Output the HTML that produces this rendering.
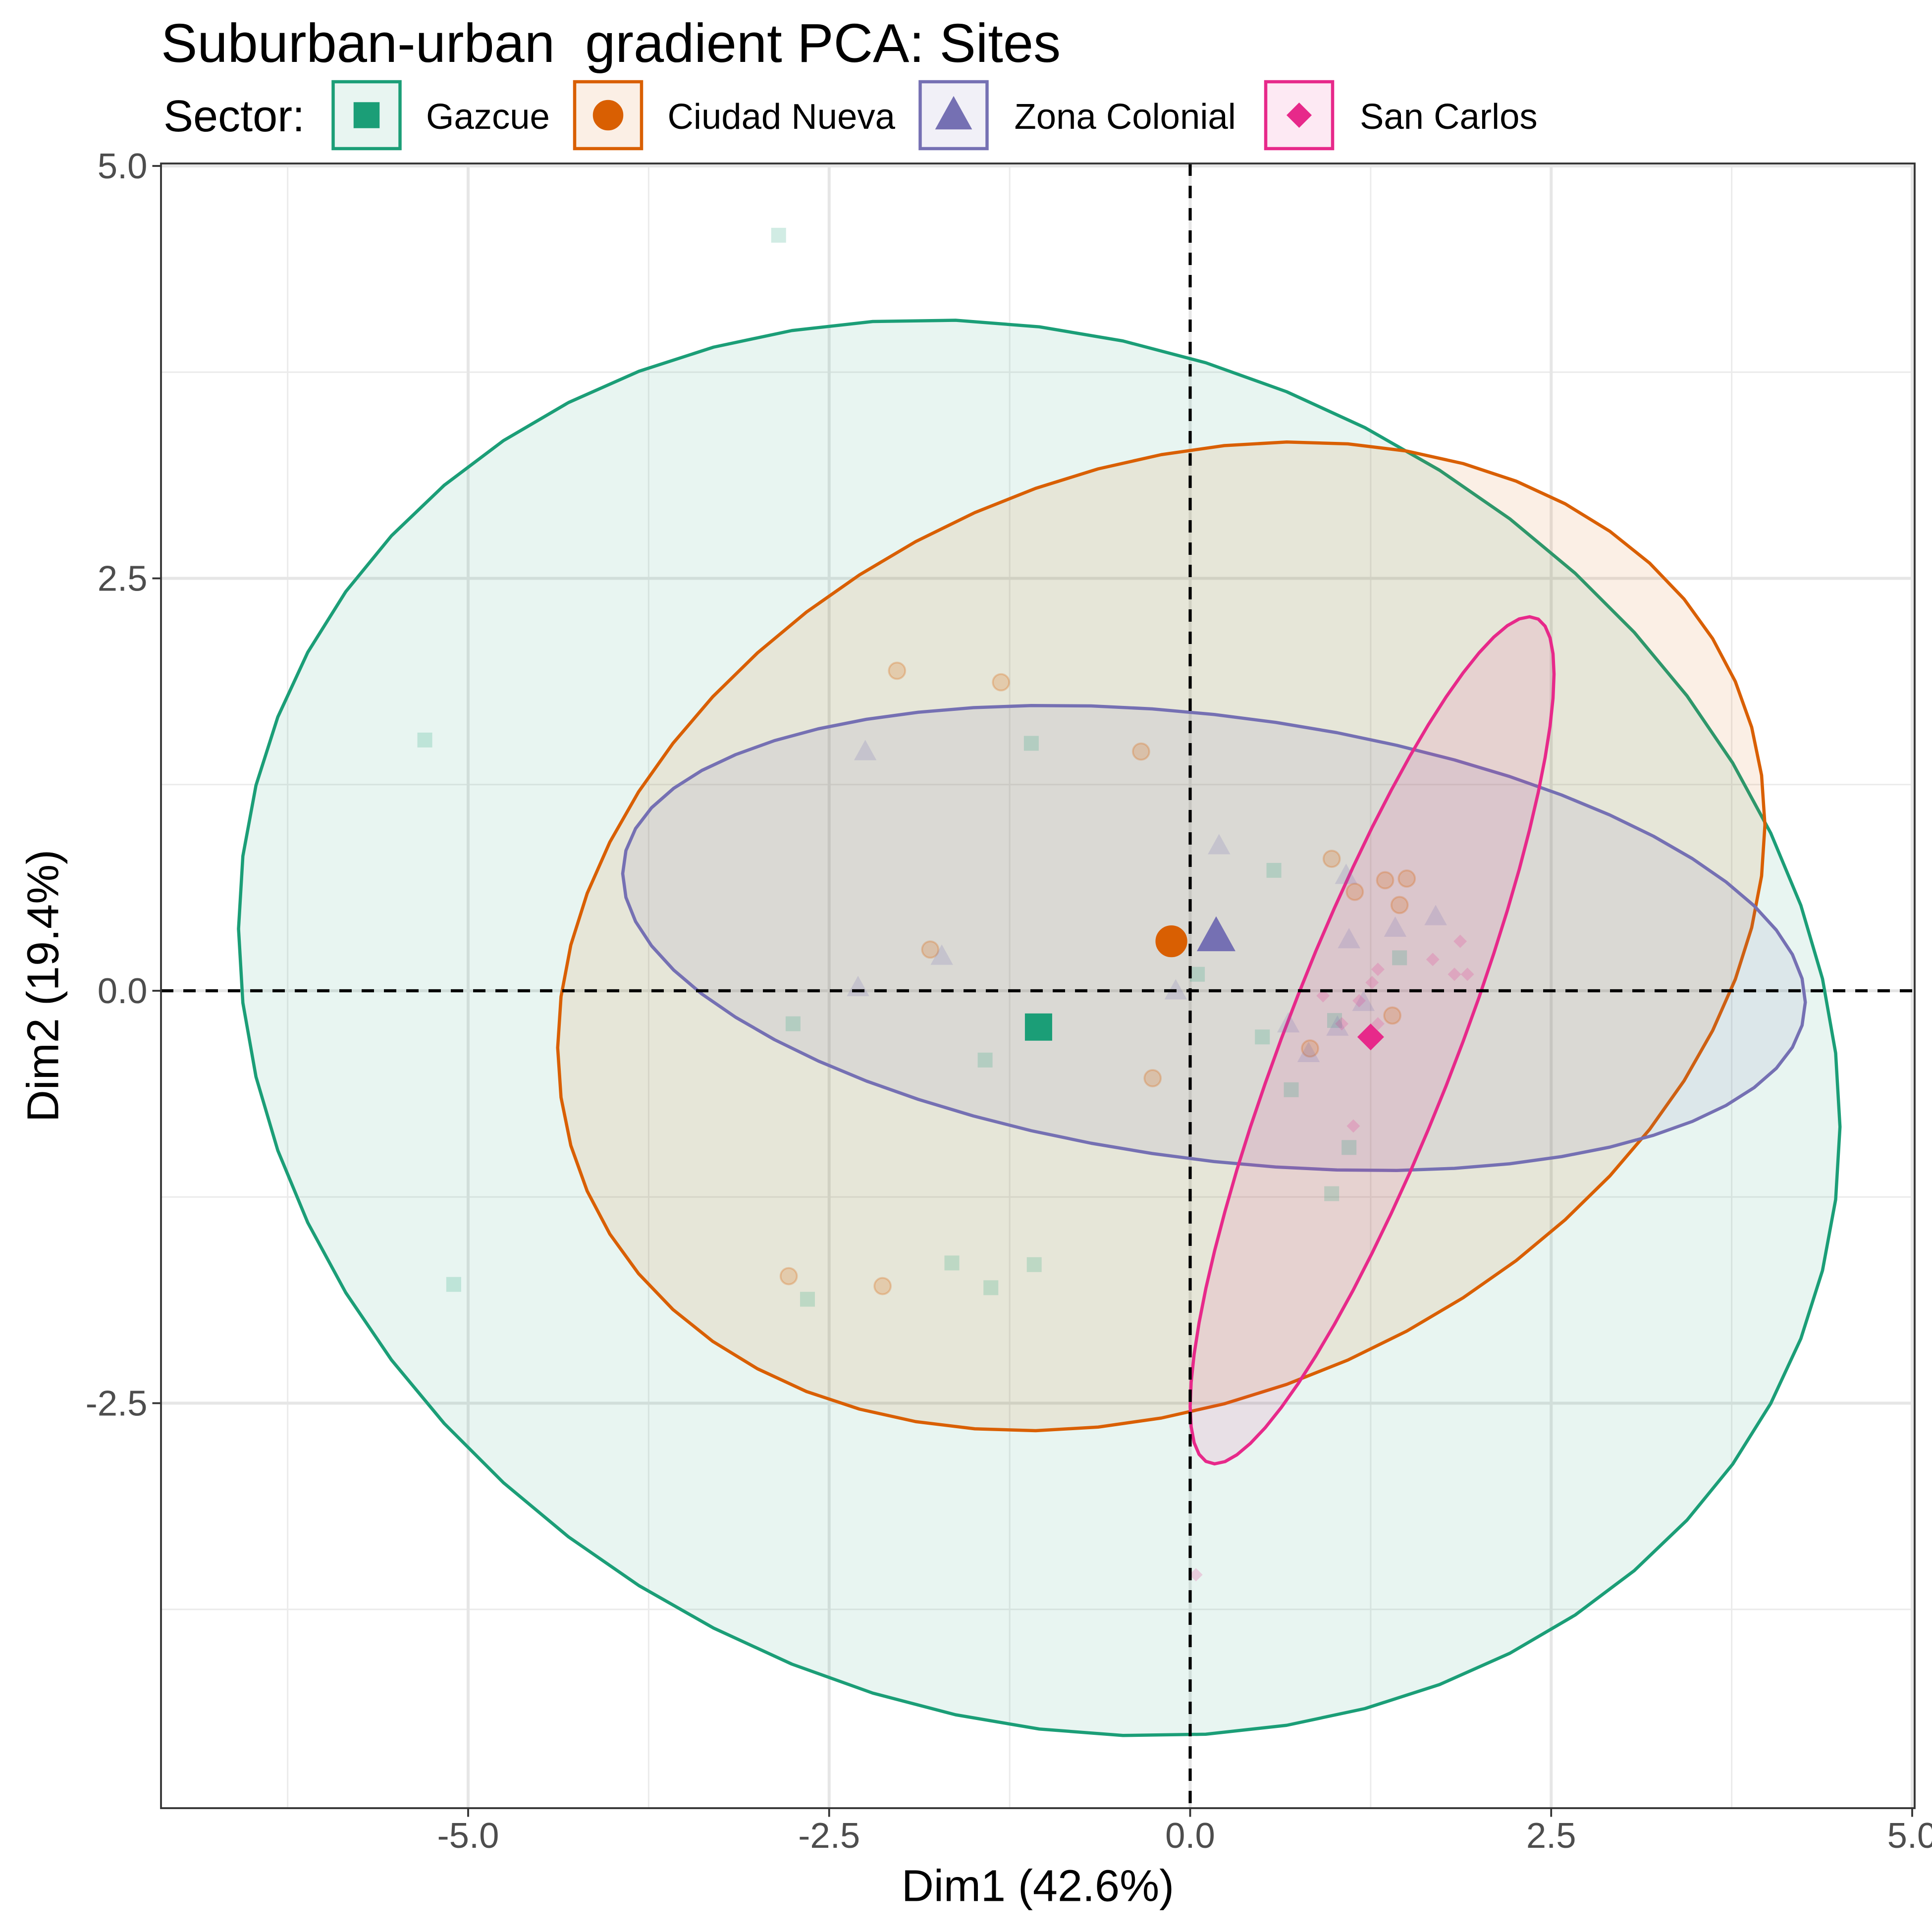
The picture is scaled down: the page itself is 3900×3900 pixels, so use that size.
<!DOCTYPE html>
<html><head><meta charset="utf-8"><style>
html,body{margin:0;padding:0;background:#fff;}
svg{display:block;font-family:"Liberation Sans",Arial,sans-serif;}
</style></head><body>
<svg id="chart" width="3900" height="3900" viewBox="0 0 1560 1560" xmlns="http://www.w3.org/2000/svg">
<rect x="0" y="0" width="1560" height="1560" fill="#fff"/>
<text x="130" y="50" font-size="44" fill="#000" xml:space="preserve" style="white-space:pre">Suburban-urban  gradient PCA: Sites</text>
<g id="legend"></g>
<rect x="130" y="132" width="1416" height="1328" fill="#fff"/>
<g id="grid"></g>
<g id="ellipses"></g>
<g id="points"></g>
<g id="axes"></g>
<text x="838" y="1535" font-size="36" text-anchor="middle">Dim1 (42.6%)</text>
<text transform="translate(47,796) rotate(-90)" font-size="36" text-anchor="middle">Dim2 (19.4%)</text>
</svg>
<script>
const groups = ["Gazcue","Ciudad Nueva","Zona Colonial","San Carlos"];
const colors = ["#1b9e77","#d95f02","#7570b3","#e7298a"];
const gazcueX = [-2.85,-5.3,-1.1,-5.1,-2.75,-1.42,0.05,0.58,0.5,1.0,1.45,0.7,1.1,0.98,-2.65,-1.65,-1.08,-1.38];
const gazcueY = [4.58,1.52,1.5,-1.78,-0.2,-0.42,0.1,0.73,-0.28,-0.18,0.2,-0.6,-0.95,-1.23,-1.87,-1.65,-1.66,-1.8];
const nuevaX = [-2.03,-1.31,-0.34,0.98,1.14,1.35,1.5,1.45,-1.8,-0.26,0.83,1.4,-2.78,-2.13];
const nuevaY = [1.94,1.87,1.45,0.8,0.6,0.67,0.68,0.52,0.25,-0.53,-0.35,-0.15,-1.73,-1.79];
const colonialX = [-2.25,0.2,1.08,-1.72,-2.3,-0.1,1.1,1.42,1.7,0.68,0.82,1.2,1.02];
const colonialY = [1.45,0.88,0.7,0.21,0.02,0.0,0.31,0.38,0.45,-0.2,-0.38,-0.07,-0.22];
const carlosX = [1.87,1.68,1.3,1.26,1.83,1.92,0.92,1.17,1.05,1.13,0.04,1.3];
const carlosY = [0.3,0.19,0.13,0.05,0.1,0.1,-0.03,-0.06,-0.2,-0.82,-3.54,-0.2];
const centroidX = [-1.05,-0.13,0.18,1.25];
const centroidY = [-0.22,0.3,0.33,-0.28];
// ellipse: center, half-axis a, half-axis b (data units)
const ellCx = [-1.045,-0.2,0.165,1.26];
const ellCy = [-0.225,0.33,0.32,-0.3];
const ellAx = [5.545,4.18,4.095,1.26];
const ellAy = [-0.6,0.675,-0.39,2.22];
const ellBx = [0,0,0,0];
const ellBy = [4.25,2.92,1.355,1.29];
const xTicks = [-5.0,-2.5,0.0,2.5,5.0];
const yTicks = [-2.5,0.0,2.5,5.0];
const xMinor = [-6.25,-3.75,-1.25,1.25,3.75];
const yMinor = [-3.75,-1.25,1.25,3.75];

const L=130,R=1546,T=132,B=1460;
const sx = v => 961 + v*116.6;
const sy = v => 800 - v*133.2;
const NS="http://www.w3.org/2000/svg";
function mk(tag, parent, attrs){const e=document.createElementNS(NS,tag);for(const k in attrs)e.setAttribute(k,attrs[k]);parent.appendChild(e);return e;}

const grid=document.getElementById('grid');
xMinor.forEach(v=>{const l=mk('line',grid,{x1:sx(v),x2:sx(v),y1:T,y2:B,stroke:'#ebebeb','stroke-width':1.2});
});
yMinor.forEach(v=>{const l=mk('line',grid,{x1:L,x2:R,y1:sy(v),y2:sy(v),stroke:'#ebebeb','stroke-width':1.2});
});
xTicks.forEach(v=>{const l=mk('line',grid,{x1:sx(v),x2:sx(v),y1:T,y2:B,stroke:'#e6e6e6','stroke-width':2.4});
});
yTicks.forEach(v=>{const l=mk('line',grid,{x1:L,x2:R,y1:sy(v),y2:sy(v),stroke:'#e6e6e6','stroke-width':2.4});
});

const eg=document.getElementById('ellipses');
groups.forEach((g,i)=>{let d='';const n=60;
for(let k=0;k<n;k++){const t=2*Math.PI*k/n;const x=ellCx[i]+ellAx[i]*Math.cos(t)+ellBx[i]*Math.sin(t);const y=ellCy[i]+ellAy[i]*Math.cos(t)+ellBy[i]*Math.sin(t);d+=(k?'L':'M')+sx(x).toFixed(1)+','+sy(y).toFixed(1);}
d+='Z';
const p=mk('path',eg,{d:d,fill:colors[i],'fill-opacity':0.1,stroke:colors[i],'stroke-width':2.6,'stroke-linejoin':'round'});

});

const pg=document.getElementById('points');
function marker(parent,shape,x,y,s,col,op){let e;
if(shape===0)e=mk('rect',parent,{x:x-s,y:y-s,width:2*s,height:2*s,fill:col,'fill-opacity':op});
else if(shape===1)e=mk('circle',parent,{cx:x,cy:y,r:s*1.1,fill:col,'fill-opacity':op,stroke:col,'stroke-opacity':op*1.3,'stroke-width':1.5});
else if(shape===2)e=mk('path',parent,{d:`M${x},${y-s*1.35}L${x+s*1.3},${y+s}L${x-s*1.3},${y+s}Z`,fill:col,'fill-opacity':op});
else e=mk('path',parent,{d:`M${x},${y-s*1.2}L${x+s*1.2},${y}L${x},${y+s*1.2}L${x-s*1.2},${y}Z`,fill:col,'fill-opacity':op});
return e;}
const allX=[gazcueX,nuevaX,colonialX,carlosX], allY=[gazcueY,nuevaY,colonialY,carlosY];
const sizes=[6,6,7,4.5];
groups.forEach((g,i)=>{allX[i].forEach((v,j)=>{const e=marker(pg,i,sx(v),sy(allY[i][j]),sizes[i],colors[i],0.2);

});});
groups.forEach((g,i)=>{const e=marker(pg,i,sx(centroidX[i]),sy(centroidY[i]),[11,11,12,9][i],colors[i],1);

});

const ax=document.getElementById('axes');
let h=mk('line',ax,{x1:L,x2:R,y1:sy(0),y2:sy(0),stroke:'#000','stroke-width':2.5,'stroke-dasharray':'10,8'});

let vv=mk('line',ax,{x1:sx(0),x2:sx(0),y1:T,y2:B,stroke:'#000','stroke-width':2.5,'stroke-dasharray':'10,8'});

let fr=mk('rect',ax,{x:L,y:T,width:R-L,height:B-T,fill:'none',stroke:'#333','stroke-width':1.5});

xTicks.forEach(v=>{mk('line',ax,{x1:sx(v),x2:sx(v),y1:B,y2:B+7,stroke:'#333','stroke-width':1.5});
const t=mk('text',ax,{x:sx(v),y:B+32,'font-size':29,fill:'#4d4d4d','text-anchor':'middle'});t.textContent=v.toFixed(1);
});
yTicks.forEach(v=>{mk('line',ax,{x1:L-7,x2:L,y1:sy(v),y2:sy(v),stroke:'#333','stroke-width':1.5});
const t=mk('text',ax,{x:L-11,y:sy(v)+10,'font-size':29,fill:'#4d4d4d','text-anchor':'end'});t.textContent=v.toFixed(1);
});

const lg=document.getElementById('legend');
const st=mk('text',lg,{x:132,y:106,'font-size':36});st.textContent='Sector:';

const boxX=[269,464,743,1022], labX=[344,539,819,1098];
groups.forEach((g,i)=>{const gg=mk('g',lg,{});


mk('rect',gg,{x:boxX[i],y:66,width:54,height:54,fill:colors[i],'fill-opacity':0.1,stroke:colors[i],'stroke-width':2.6});
marker(gg,i,boxX[i]+27,93,[10.5,10.5,11.5,8.5][i],colors[i],1);
const t=mk('text',gg,{x:labX[i],y:104,'font-size':29});t.textContent=g;});
</script>
</body></html>
